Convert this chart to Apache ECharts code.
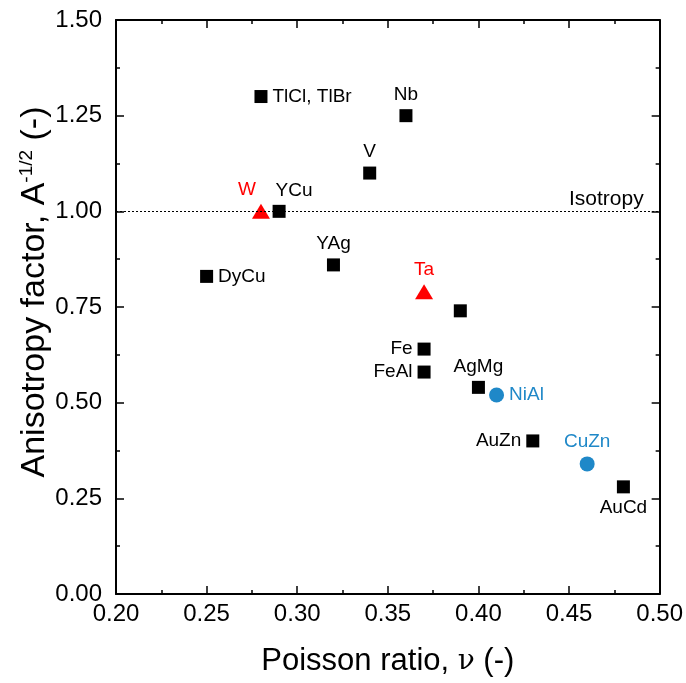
<!DOCTYPE html>
<html>
<head>
<meta charset="utf-8">
<script src="https://cdn.jsdelivr.net/npm/echarts@6/dist/echarts.min.js"></script>
<style>
  html, body { margin: 0; padding: 0; background: #fff; }
  #chart { width: 686px; height: 683px; }
</style>
</head>
<body>
<div id="chart"></div>
<script>
// black squares
const squareNames = ["TlCl, TlBr", "Nb", "V", "YCu", "YAg", "DyCu", "", "Fe", "FeAl", "AgMg", "AuZn", "AuCd"];
const squareX = [0.28, 0.36, 0.34, 0.29, 0.32, 0.25, 0.39, 0.37, 0.37, 0.40, 0.43, 0.48];
const squareY = [1.30, 1.25, 1.10, 1.00, 0.86, 0.83, 0.74, 0.64, 0.58, 0.54, 0.40, 0.28];

// red triangles
const triNames = ["W", "Ta"];
const triX = [0.28, 0.37];
const triY = [1.00, 0.79];

// blue circles
const circNames = ["NiAl", "CuZn"];
const circX = [0.41, 0.46];
const circY = [0.52, 0.34];

const isotropyValue = 1.0;

const xTicks = [0.20, 0.25, 0.30, 0.35, 0.40, 0.45, 0.50];
const yTicks = [0.00, 0.25, 0.50, 0.75, 1.00, 1.25, 1.50];

// where each label sits around its marker
const labelPos = {
  "TlCl, TlBr": "right", "Nb": "top", "V": "top", "YCu": "top", "YAg": "top",
  "DyCu": "right", "Fe": "left", "FeAl": "left", "AgMg": "top", "AuZn": "left",
  "AuCd": "bottom", "W": "top", "Ta": "top", "NiAl": "right", "CuZn": "top"
};
const labelOffset = { "W": [-14, 0], "YCu": [15, 0] };

const FONT = "Liberation Sans, Arial, sans-serif";
const RED = "#ff0000";
const BLUE = "#1f88c8";

function points(names, xs, ys) {
  return names.map((n, i) => ({
    value: [xs[i], ys[i]],
    name: n,
    label: {
      show: n !== "",
      position: labelPos[n] || "right",
      offset: labelOffset[n] || [0, 0],
      distance: 5
    }
  }));
}

const baseAxis = {
  axisLine: { show: true, onZero: false, lineStyle: { color: "#000", width: 2 } },
  axisTick: { show: true, inside: true, length: 8, lineStyle: { color: "#000", width: 1.5 } },
  minorTick: { show: true, splitNumber: 2, length: 4, lineStyle: { color: "#000", width: 1.5 } },
  splitLine: { show: false }
};

const xBase = Object.assign({}, baseAxis, { type: "value", min: 0.2, max: 0.5, interval: 0.05 });
const yBase = Object.assign({}, baseAxis, { type: "value", min: 0, max: 1.5, interval: 0.25 });

const option = {
  animation: false,
  backgroundColor: "#fff",
  grid: { left: 116, right: 26, top: 20, bottom: 89 },
  xAxis: [
    Object.assign({}, xBase, {
      position: "bottom",
      name: "Poisson ratio, {nu|ν} (-)",
      nameLocation: "middle",
      nameGap: 52,
      nameTextStyle: {
        fontFamily: FONT, fontSize: 31, color: "#000",
        rich: { nu: { fontFamily: "DejaVu Serif, Liberation Serif, serif", fontSize: 28, color: "#000" } }
      },
      axisLabel: {
        margin: 8, fontFamily: FONT, fontSize: 24, color: "#000",
        formatter: v => xTicks.find(t => Math.abs(t - v) < 1e-6)?.toFixed(2) ?? ""
      }
    }),
    Object.assign({}, xBase, { position: "top", axisLabel: { show: false } })
  ],
  yAxis: [
    Object.assign({}, yBase, {
      position: "left",
      name: "Anisotropy factor, A{sup|-1/2} (-)",
      nameLocation: "middle",
      nameGap: 63,
      nameMoveOverlap: false,
      nameTextStyle: {
        fontFamily: FONT, fontSize: 34, color: "#000", verticalAlign: "bottom",
        padding: [0, 0, 0, 30],
        rich: { sup: { fontFamily: FONT, fontSize: 19, color: "#000", verticalAlign: "top", padding: [0, 0, 17, 0] } }
      },
      axisLabel: {
        margin: 14, fontFamily: FONT, fontSize: 24, color: "#000",
        formatter: v => yTicks.find(t => Math.abs(t - v) < 1e-6)?.toFixed(2) ?? ""
      }
    }),
    Object.assign({}, yBase, { position: "right", axisLabel: { show: false } })
  ],
  series: [
    {
      type: "scatter",
      symbol: "rect",
      symbolSize: 13,
      itemStyle: { color: "#000", opacity: 1 },
      emphasis: { disabled: true },
      label: { formatter: "{b}", fontFamily: FONT, fontSize: 19, color: "#000" },
      data: points(squareNames, squareX, squareY),
      markLine: {
        silent: true,
        symbol: "none",
        lineStyle: { color: "#000", type: [2, 2], width: 1 },
        label: {
          position: "insideEndTop", formatter: "Isotropy",
          fontFamily: FONT, fontSize: 21, color: "#000", distance: [16, 2]
        },
        data: [{ yAxis: isotropyValue }]
      },
      z: 3
    },
    {
      type: "scatter",
      symbol: "triangle",
      symbolSize: [18, 15],
      itemStyle: { color: RED, opacity: 1 },
      emphasis: { disabled: true },
      label: { formatter: "{b}", fontFamily: FONT, fontSize: 19, color: RED },
      data: points(triNames, triX, triY),
      z: 4
    },
    {
      type: "scatter",
      symbol: "circle",
      symbolSize: 15,
      itemStyle: { color: BLUE, opacity: 1 },
      emphasis: { disabled: true },
      label: { formatter: "{b}", fontFamily: FONT, fontSize: 19, color: BLUE },
      data: points(circNames, circX, circY),
      z: 4
    }
  ]
};

const myChart = echarts.init(document.getElementById("chart"));
myChart.setOption(option);
</script>
</body>
</html>
